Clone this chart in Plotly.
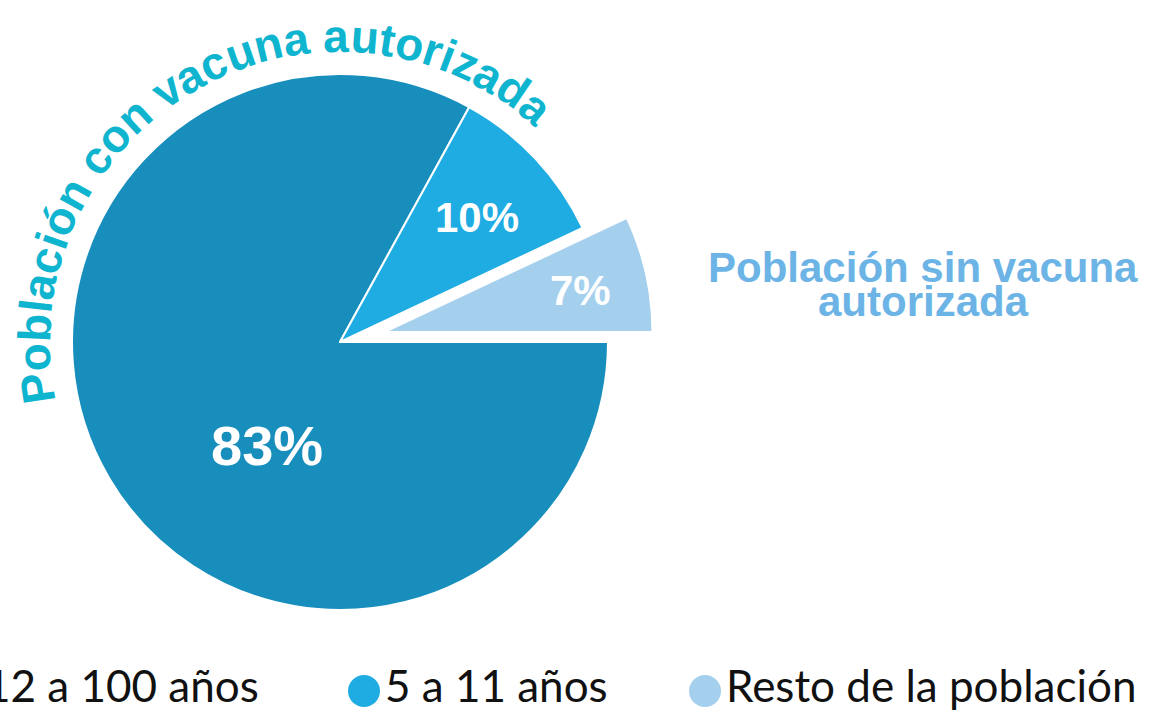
import math
import plotly.graph_objects as go

# ---------------- data ----------------
categories = ["12 a 100 años", "5 a 11 años", "Resto de la población"]
values = [83, 10, 7]
arc_title = "Población con vacuna autorizada"
side_title_lines = ["Población sin vacuna", "autorizada"]

# ---------------- style / layout ----------------
colors = ["#188ebd", "#1face3", "#a4d0ee"]
pulls = [0, 0, 0.17]
label_sizes = [56, 42, 42]
label_pos = [(267, 445), (477, 217), (580, 290)]   # px positions of slice labels
TEAL = "#0fb5cf"
SIDE = "#6cb4e6"
FIG_W, FIG_H = 1154, 713
CX, CY, R = 340, 342, 268          # pie centre / radius in px
BOLD_FONT = "Liberation Sans, Arial, sans-serif"
LEG_FONT = "Lato, sans-serif"

# pie domain so that plotly's radius (box / (2 + 2*maxPull)) equals R
half = R * (1 + max(pulls))
dom_x = [(CX - half) / FIG_W, (CX + half) / FIG_W]
dom_y = [1 - (CY + half) / FIG_H, 1 - (CY - half) / FIG_H]

fig = go.Figure()

fig.add_trace(go.Pie(
    labels=categories,
    values=values,
    sort=False,
    direction="clockwise",
    rotation=90,
    pull=pulls,
    marker=dict(colors=colors, line=dict(color="white", width=2)),
    textinfo="none",
    domain=dict(x=dom_x, y=dom_y),
    showlegend=False,
    hoverinfo="label+percent",
))

# ---------------- custom legend (big circles) ----------------
LEG_X = [-36, 364, 705]
LEG_Y = 691
fig.add_trace(go.Scatter(
    x=LEG_X,
    y=[LEG_Y] * len(categories),
    mode="markers+text",
    text=categories,
    textposition="middle right",
    textfont=dict(family=LEG_FONT, size=44, color="#111111"),
    marker=dict(size=32, color=colors, line=dict(width=0)),
    cliponaxis=True,
    showlegend=False,
    hoverinfo="skip",
    xaxis="x", yaxis="y",
))

annotations = []

# ---------------- slice percentage labels ----------------
total = sum(values)
for v, (lx, ly), fs in zip(values, label_pos, label_sizes):
    annotations.append(dict(
        x=lx, y=ly, xref="x", yref="y", text=f"{round(v / total * 100)}%",
        showarrow=False, xanchor="center", yanchor="middle",
        font=dict(family=BOLD_FONT, size=fs, color="white", weight="bold"),
    ))

# ---------------- curved title along the pie ----------------
# Arial/Liberation Sans Bold advance widths (1/1000 em)
ADV = {'P': 667, 'o': 611, 'b': 611, 'l': 278, 'a': 556, 'c': 556, 'i': 278,
       'ó': 611, 'n': 611, ' ': 278, 'v': 556, 'u': 611, 't': 333, 'r': 389,
       'z': 500, 'd': 611, 's': 556}
ARC_F = 46
R_BASE = 290
R_MID = R_BASE + 0.35 * ARC_F
THETA0 = math.radians(191.7)

pos = 0.0
for ch in arc_title:
    w = ADV.get(ch, 556) / 1000 * ARC_F
    if ch != " ":
        th = THETA0 - (pos + w / 2) / R_BASE
        x = CX + R_MID * math.cos(th)
        y = CY - R_MID * math.sin(th)
        annotations.append(dict(
            x=x, y=y, xref="x", yref="y", text=ch, showarrow=False,
            xanchor="center", yanchor="middle",
            textangle=90 - math.degrees(th),
            font=dict(family=BOLD_FONT, size=ARC_F, color=TEAL, weight="bold"),
        ))
    pos += w

# ---------------- side title ----------------
SIDE_X = 923
SIDE_Y = [267, 301]
for line, yy in zip(side_title_lines, SIDE_Y):
    annotations.append(dict(
        x=SIDE_X, y=yy, xref="x", yref="y", text=line, showarrow=False,
        xanchor="center", yanchor="middle",
        font=dict(family=BOLD_FONT, size=42, color=SIDE, weight="bold"),
    ))

fig.update_layout(
    width=FIG_W, height=FIG_H,
    margin=dict(l=0, r=0, t=0, b=0),
    paper_bgcolor="white", plot_bgcolor="rgba(0,0,0,0)",
    xaxis=dict(range=[0, FIG_W], visible=False, fixedrange=True, domain=[0, 1]),
    yaxis=dict(range=[FIG_H, 0], visible=False, fixedrange=True, domain=[0, 1]),
    annotations=annotations,
    showlegend=False,
    hovermode="closest",
)

fig.write_html(
    "out.html",
    config={"displayModeBar": False},
    post_script="document.body.style.margin='0';document.body.style.overflow='hidden';",
)
